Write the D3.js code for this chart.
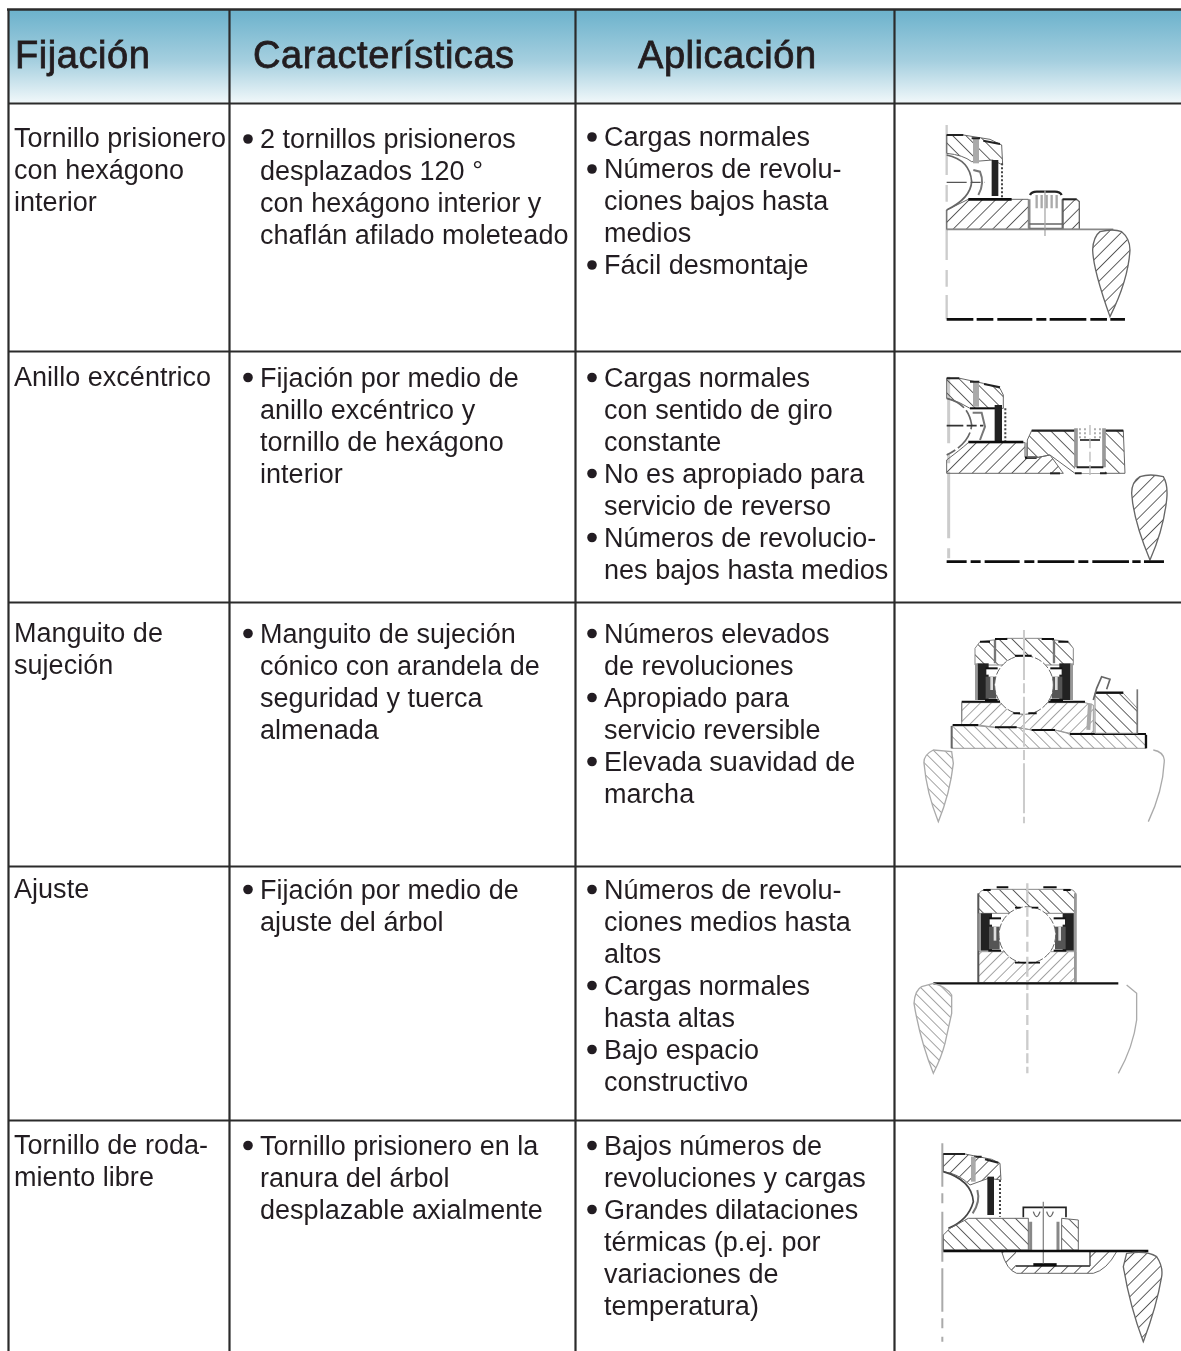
<!DOCTYPE html>
<html>
<head>
<meta charset="utf-8">
<script src="https://cdnjs.cloudflare.com/ajax/libs/d3/7.8.5/d3.min.js"></script>
<style>
  html, body { margin: 0; padding: 0; background: #fff; }
  svg { display: block; }
  text { font-family: "Liberation Sans", Arial, sans-serif; fill: #231f20; }
</style>
</head>
<body>
<svg width="1181" height="1351"></svg>
<script>
// table content, one list per column
const headers = ["Fijación", "Características", "Aplicación"];
const rowNames = ["prisionero", "excentrico", "manguito", "ajuste", "libre"];

const fijacion = [
  ["Tornillo prisionero", "con hexágono", "interior"],
  ["Anillo excéntrico"],
  ["Manguito de", "sujeción"],
  ["Ajuste"],
  ["Tornillo de roda-", "miento libre"]
];

// a leading "*" means the line starts with a bullet
const caracteristicas = [
  ["*2 tornillos prisioneros", "desplazados 120 °", "con hexágono interior y", "chaflán afilado moleteado"],
  ["*Fijación por medio de", "anillo excéntrico y", "tornillo de hexágono", "interior"],
  ["*Manguito de sujeción", "cónico con arandela de", "seguridad y tuerca", "almenada"],
  ["*Fijación por medio de", "ajuste del árbol"],
  ["*Tornillo prisionero en la", "ranura del árbol", "desplazable axialmente"]
];

const aplicacion = [
  ["*Cargas normales", "*Números de revolu-", "ciones bajos hasta", "medios", "*Fácil desmontaje"],
  ["*Cargas normales", "con sentido de giro", "constante", "*No es apropiado para", "servicio de reverso", "*Números de revolucio-", "nes bajos hasta medios"],
  ["*Números elevados", "de revoluciones", "*Apropiado para", "servicio reversible", "*Elevada suavidad de", "marcha"],
  ["*Números de revolu-", "ciones medios hasta", "altos", "*Cargas normales", "hasta altas", "*Bajo espacio", "constructivo"],
  ["*Bajos números de", "revoluciones y cargas", "*Grandes dilataciones", "térmicas (p.ej. por", "variaciones de", "temperatura)"]
];

const svg = d3.select("svg");
const width = 1181, height = 1351;
const lineHeight = 32;

// uneven rows and columns, so ordinal scales with explicit ranges
const rowTop = d3.scaleOrdinal().domain(rowNames).range([104, 352, 603, 867, 1121]);
const rowBaseCol1 = d3.scaleOrdinal().domain(rowNames).range([146.5, 385.5, 641.5, 897.5, 1153.5]);
const rowBaseCol2 = d3.scaleOrdinal().domain(rowNames).range([148, 386.5, 642.5, 898.5, 1154.5]);
const rowBaseCol3 = d3.scaleOrdinal().domain(rowNames).range([146, 386.5, 642.5, 898.5, 1154.5]);

const defs = svg.append("defs");

const grad = defs.append("linearGradient").attr("id", "headGrad")
  .attr("x1", 0).attr("y1", 0).attr("x2", 0).attr("y2", 1);
grad.append("stop").attr("offset", "0%").attr("stop-color", "#6cb2cc");
grad.append("stop").attr("offset", "55%").attr("stop-color", "#a5cfdf");
grad.append("stop").attr("offset", "100%").attr("stop-color", "#f1f8fa");

defs.append("filter").attr("id", "soft").append("feGaussianBlur").attr("stdDeviation", 0.75);
defs.append("filter").attr("id", "softer").append("feGaussianBlur").attr("stdDeviation", 0.3);

function hatch(id, angle, gap, color, w) {
  const p = defs.append("pattern").attr("id", id)
    .attr("patternUnits", "userSpaceOnUse")
    .attr("width", gap).attr("height", gap)
    .attr("patternTransform", "rotate(" + angle + ")");
  p.append("line").attr("x1", 0).attr("y1", 0).attr("x2", 0).attr("y2", gap)
    .attr("stroke", color).attr("stroke-width", w);
}
hatch("up", 45, 28, "#444", 5);
hatch("down", -45, 28, "#444", 5);
hatch("upPale", 45, 23, "#777", 4);
hatch("downPale", -45, 23, "#777", 4);

// background and grid
svg.append("rect").attr("x", 8).attr("y", 10).attr("width", width - 8).attr("height", 93)
  .attr("fill", "url(#headGrad)");

const grid = svg.append("g").attr("stroke", "#2b2b2b").attr("stroke-width", 2);
grid.append("line").attr("x1", 7).attr("x2", width).attr("y1", 9.5).attr("y2", 9.5).attr("stroke-width", 2.5);
grid.selectAll(".h").data(rowNames).enter().append("line")
  .attr("x1", 8).attr("x2", width)
  .attr("y1", d => rowTop(d) - 0.5).attr("y2", d => rowTop(d) - 0.5)
  .attr("stroke-width", 1.8);
grid.selectAll(".v").data([8.5, 229.5, 575.5, 894.5]).enter().append("line")
  .attr("x1", d => d).attr("x2", d => d)
  .attr("y1", 9).attr("y2", height)
  .attr("stroke-width", 2.2);

// text
const textLayer = svg.append("g").attr("filter", "url(#softer)");

textLayer.selectAll(".head").data(headers).enter().append("text")
  .attr("x", (d, i) => [15, 253, 638][i])
  .attr("y", 68)
  .attr("font-size", 38)
  .attr("letter-spacing", 0.55)
  .attr("stroke", "#231f20").attr("stroke-width", 0.8)
  .text(d => d);

function column(rows, textX, bulletX, baseScale) {
  rows.forEach(function (lines, r) {
    const base = baseScale(rowNames[r]);
    lines.forEach(function (line, i) {
      const bullet = line[0] === "*";
      const y = base + i * lineHeight;
      if (bullet) {
        textLayer.append("circle").attr("cx", bulletX).attr("cy", y - 9)
          .attr("r", 4.8).attr("fill", "#231f20");
      }
      textLayer.append("text").attr("class", "cell")
        .attr("x", textX).attr("y", y)
        .attr("font-size", 27)
        .attr("letter-spacing", 0.03)
        .text(bullet ? line.slice(1) : line);
    });
  });
}
column(fijacion, 14, 0, rowBaseCol1);
column(caracteristicas, 260, 248, rowBaseCol2);
column(aplicacion, 604, 592, rowBaseCol3);

// bearing drawings, sketched in a 3x local space inside the last column
function panel(x, y, blur) {
  const outer = svg.append("g");
  if (blur) outer.attr("filter", "url(#soft)");
  return outer.append("g").attr("transform", "translate(" + x + "," + y + ") scale(0.3333)");
}
function shape(g, d, fill, stroke, w, dash) {
  const p = g.append("path").attr("d", d)
    .attr("fill", fill ? "url(#" + fill + ")" : "none")
    .attr("stroke", stroke || "none")
    .attr("stroke-width", w || 3);
  if (dash) p.attr("stroke-dasharray", dash);
  return p;
}

// drawing 1: set screw
const d1 = panel(900, 110, true);
shape(d1, "M140,45V628", null, "#ccc", 7, "150,30,50,25");
shape(d1, "M140,75H190L270,88L305,105L308,165L278,150L215,155Q190,135 140,130Z", "down", "#666", 3);
shape(d1, "M228,85V160", null, "#aaa", 18);
shape(d1, "M140,75H190M215,85H240M250,92L300,102", null, "#222", 6);
shape(d1, "M285,150V258", null, "#222", 20);
shape(d1, "M306,160V262", null, "#444", 6, "6,6");
shape(d1, "M140,135Q210,150 215,215Q212,265 140,300", null, "#666", 5);
shape(d1, "M220,180L240,185Q255,220 235,255", null, "#777", 6);
shape(d1, "M140,217H255", null, "#555", 4, "60,12,30,12");
shape(d1, "M140,300L205,268H385V358H140Z", "up", "#666", 3);
shape(d1, "M205,268H335", null, "#111", 8);
d1.append("rect").attr("x", 388).attr("y", 250).attr("width", 100).attr("height", 108).attr("fill", "#fff");
shape(d1, "M388,268V358M488,268V358", null, "#888", 7);
shape(d1, "M390,255Q395,245 410,245H465Q480,245 485,255", null, "#222", 7);
shape(d1, "M410,255V295M425,255V295M440,255V295M455,255V295M470,255V295", null, "#aaa", 7);
shape(d1, "M388,342H488M388,355H488", null, "#666", 4);
shape(d1, "M435,240V378", null, "#aaa", 4);
shape(d1, "M488,268H530L538,275V358H488Z", "up", "#666", 4);
shape(d1, "M488,268H530", null, "#222", 6);
shape(d1, "M140,358H640", null, "#888", 5);
shape(d1, "M600,365Q640,355 665,365Q690,385 690,420Q685,510 630,620Q580,480 578,420Q580,380 600,365Z", "up", "#666", 4);
shape(d1, "M140,628H675", null, "#111", 8, "80,10,50,12,105,12,30,10,110,12,50,10");

// drawing 2: eccentric ring
const d2 = panel(900, 360, true);
shape(d2, "M146,50V605", null, "#ccc", 9, "200,30,30,25");
shape(d2, "M140,55H180L250,70L300,85L310,105V145H210Q180,125 140,115Z", "down", "#666", 3);
shape(d2, "M228,65V140", null, "#aaa", 18);
shape(d2, "M140,55H178M210,65H238M252,72L300,82", null, "#222", 6);
shape(d2, "M210,145H300", null, "#111", 6);
shape(d2, "M295,135V245", null, "#222", 22);
shape(d2, "M316,145V245", null, "#444", 6, "6,6");
shape(d2, "M140,115Q205,130 215,195Q210,250 140,285", null, "#666", 5, "60,10");
shape(d2, "M218,158H245L255,200L240,240", null, "#777", 6);
shape(d2, "M140,197H250", null, "#333", 5, "50,10,30,10");
shape(d2, "M140,340V300Q180,270 205,248H375V292H415L450,285L490,340Z", "up", "#666", 3);
shape(d2, "M205,246H370", null, "#111", 8);
shape(d2, "M378,248V292", null, "#aaa", 7);
shape(d2, "M375,293H410", null, "#111", 7);
shape(d2, "M395,212H670L675,340H525L450,285L415,292H382V240Z", "down", "#666", 3);
shape(d2, "M395,212H670", null, "#222", 7);
shape(d2, "M450,340H480", null, "#222", 6);
d2.append("rect").attr("x", 525).attr("y", 205).attr("width", 90).attr("height", 135).attr("fill", "#fff");
shape(d2, "M528,205V322M612,205V322", null, "#999", 11);
shape(d2, "M530,322H610M525,340H545M600,340H620", null, "#222", 6);
shape(d2, "M540,205V235M555,205V235M585,205V235M600,205V235", null, "#888", 4, "6,6");
shape(d2, "M540,240H600", null, "#222", 5);
shape(d2, "M570,195V350", null, "#bbb", 4, "30,10");
shape(d2, "M720,350Q750,340 790,350Q805,375 800,420Q790,510 750,600Q700,480 695,400Q695,365 720,350Z", "up", "#666", 4);
shape(d2, "M140,605H795", null, "#111", 8, "60,12,30,12,105,14,30,10,110,12,30,12,110,10,25,10");

// the seal and cage of the two full bearings, mirrored around the ball axis
function seal(g, cx, dir, outerEdge, top, bottom) {
  const s = g.append("g").attr("transform", "translate(" + cx + ",0) scale(" + dir + ",1)");
  const near = outerEdge - 68;
  shape(s, "M" + (outerEdge - 24) + "," + top + "V" + bottom, null, "#222", 34);
  shape(s, "M" + (outerEdge - 4) + "," + top + "V" + bottom, null, "#999", 8);
  shape(s, "M" + (near + 20) + "," + (top + 40) + "V" + (bottom - 4), null, "#555", 32);
  shape(s, "M" + (near + 18) + "," + (top + 40) + "V" + (bottom - 30), null, "#ddd", 8);
  s.append("path").attr("fill", "#fff")
    .attr("d", "M" + near + "," + (top + 17) + "H" + (near + 34) + "V" + (top + 34) + "H" + near + "Z");
  shape(s, "M" + (near + 36) + "," + (top + 15) + "H" + near, null, "#111", 6);
  shape(s, "M" + (outerEdge - 30) + "," + bottom + "H" + near, null, "#111", 6);
}

// drawing 3: adapter sleeve
const d3g = panel(900, 620, false);
shape(d3g, "M225,135V85L240,65L320,55H425L505,65L520,85V135Z", "down", "#888", 3);
shape(d3g, "M240,65H270M285,57H322M425,57H462M475,65H505", null, "#111", 6);
shape(d3g, "M285,60V130M462,60V130", null, "#777", 7);
shape(d3g, "M185,300V248H555L580,255V340H510L465,330H395L350,322H285L235,315H185Z", "upPale", "#999", 3);
shape(d3g, "M155,385V318H235L285,322H350L395,330H465L510,342H738V385Z", "downPale", "#999", 3);
shape(d3g, "M158,315H235M285,322H350M395,330H465M510,342H738", null, "#111", 6);
shape(d3g, "M155,318V385", null, "#666", 6);
shape(d3g, "M738,345V385", null, "#111", 7);
shape(d3g, "M185,248V305", null, "#888", 4);
seal(d3g, 372, -1, 147, 130, 240);
seal(d3g, 372, 1, 147, 130, 240);
d3g.append("circle").attr("cx", 372).attr("cy", 195).attr("r", 88).attr("fill", "#fff").attr("stroke", "#666").attr("stroke-width", 3).attr("stroke-dasharray", "22,6");
shape(d3g, "M345,107H395M340,280H360M385,280H410", null, "#111", 6);
shape(d3g, "M185,245H300M445,245H555", null, "#111", 6);
shape(d3g, "M372,30V610", null, "#ccc", 6, "150,10,30,10");
shape(d3g, "M585,340V220H670L712,265V340Z", "down", "#888", 3);
shape(d3g, "M585,218H670", null, "#111", 7);
shape(d3g, "M712,208V340", null, "#777", 5);
shape(d3g, "M570,250L565,330", null, "#aaa", 12);
shape(d3g, "M580,240L590,205L605,170L630,178L620,208", null, "#666", 5);
shape(d3g, "M100,390Q70,405 72,430Q80,520 115,605Q150,520 160,430L155,395Z", "downPale", "#aaa", 4);
shape(d3g, "M760,390Q790,395 793,420Q790,510 745,605", null, "#aaa", 4);

// drawing 4: press fit
const d4 = panel(900, 870, false);
shape(d4, "M235,130V75Q240,60 260,58H510Q525,60 528,75V130Z", "down", "#888", 3);
shape(d4, "M250,60H272M290,52H325M430,52H470M490,60H512", null, "#111", 6);
shape(d4, "M235,245H528V338H235Z", "upPale", "#999", 3);
shape(d4, "M235,70V338", null, "#555", 6);
shape(d4, "M526,70V338", null, "#999", 8);
seal(d4, 382, -1, 147, 130, 242);
seal(d4, 382, 1, 147, 130, 242);
d4.append("circle").attr("cx", 382).attr("cy", 195).attr("r", 85).attr("fill", "#fff").attr("stroke", "#666").attr("stroke-width", 3).attr("stroke-dasharray", "22,6");
shape(d4, "M345,113H362M395,113H415M345,278H420", null, "#111", 5);
shape(d4, "M382,40V610", null, "#ccc", 7, "60,10,30,10,50,15,30,15");
shape(d4, "M100,340H655", null, "#111", 7);
shape(d4, "M65,350Q45,360 42,400Q60,510 100,610Q125,560 135,520L155,430V375Q140,350 100,340Z", "downPale", "#aaa", 4);
shape(d4, "M680,345L710,370V450Q700,530 655,610", null, "#aaa", 4);

// drawing 5: free running screw
const d5 = panel(900, 1130, true);
shape(d5, "M127,40V635", null, "#aaa", 6, "130,20,30,25,150,20");
shape(d5, "M130,72H195L275,88L300,100L303,150L265,145L210,165Q175,130 130,125Z", "up", "#666", 3);
shape(d5, "M130,72H195M222,80H245M255,88L295,98", null, "#222", 6);
shape(d5, "M220,80V155", null, "#aaa", 14);
shape(d5, "M272,140V255", null, "#222", 20);
shape(d5, "M300,150V260", null, "#444", 6, "6,6");
shape(d5, "M130,125Q215,150 220,215Q205,270 145,295", null, "#444", 5);
shape(d5, "M232,180Q242,215 218,250", null, "#777", 6);
shape(d5, "M130,360V315L150,295L205,265H385V360Z", "down", "#666", 3);
shape(d5, "M485,265L535,270V360H485Z", "down", "#666", 3);
shape(d5, "M305,365H650Q620,420 580,430H350Q320,420 305,365Z", "up", "#666", 3);
d5.append("rect").attr("x", 348).attr("y", 365).attr("width", 222).attr("height", 43).attr("fill", "#fff");
d5.append("rect").attr("x", 388).attr("y", 270).attr("width", 92).attr("height", 135).attr("fill", "#fff");
shape(d5, "M348,408H570", null, "#222", 5);
shape(d5, "M400,404H470", null, "#111", 9);
shape(d5, "M570,365V408", null, "#444", 4);
shape(d5, "M392,275V362M474,275V362", null, "#888", 9);
shape(d5, "M370,262V232H498V262", null, "#222", 5);
shape(d5, "M400,245Q410,275 420,245M440,245Q450,275 460,245", null, "#666", 4);
shape(d5, "M430,215V400", null, "#888", 4);
shape(d5, "M130,363H745", null, "#111", 7);
shape(d5, "M680,370Q740,360 770,380Q790,410 785,440Q770,530 730,635Q690,530 670,410Z", "up", "#666", 4);
</script>
</body>
</html>
